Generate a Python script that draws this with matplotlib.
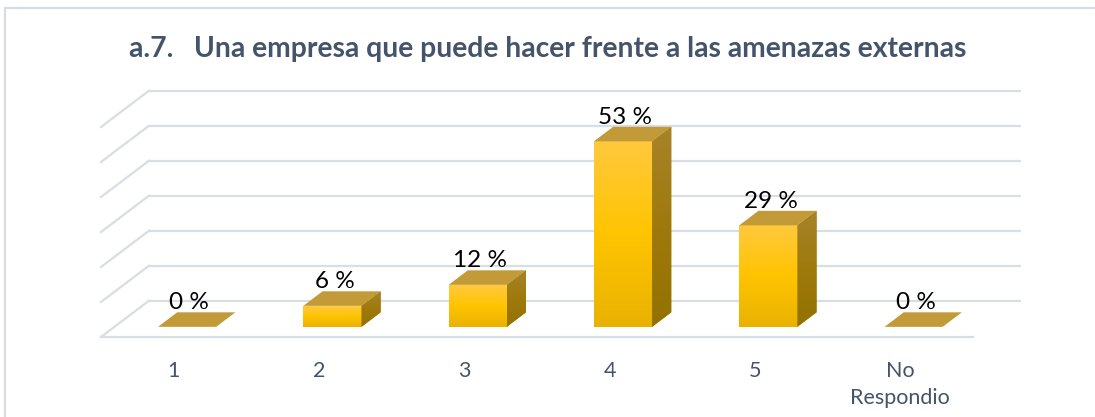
import matplotlib
matplotlib.use("Agg")
import matplotlib.pyplot as plt
import numpy as np
from matplotlib.patches import Polygon, Rectangle
from matplotlib.colors import LinearSegmentedColormap

# ---- data ----
categories = ["1", "2", "3", "4", "5", "No\nRespondio"]
values = [0, 6, 12, 53, 29, 0]
value_labels = ["0 %", "6 %", "12 %", "53 %", "29 %", "0 %"]
grid_levels = [0, 10, 20, 30, 40, 50, 60]
title = "a.7.   Una empresa que puede hacer frente a las amenazas externas"

# ---- layout (pixels) ----
W, H = 1095, 417
X0PX, CATPX = 101.0, 145.3     # left front floor edge, pixels per category
Y0PX, PXPCT = 337.0, 3.5       # front floor line, pixels per percent
DX = 48.0 / CATPX              # depth offset in category units
DY = 36.3 / PXPCT              # depth offset in percent units
Z0, Z1, HW = 0.28, 0.68, 0.2   # bar depth span and half width

fig = plt.figure(figsize=(W / 100, H / 100), dpi=100)
ax = fig.add_axes([0, 0, 1, 1])
ax.set_xlim((0 - X0PX) / CATPX - 0.5, (W - X0PX) / CATPX - 0.5)
ax.set_ylim(-(H - Y0PX) / PXPCT, Y0PX / PXPCT)
ax.axis("off")

def P(x, y, z):
    return (x + z * DX, y + z * DY)

n = len(categories)
grid_col = "#d9dde4"
# chart border
fig.patches.append(Rectangle((5 / W, -0.1), 1.2, 1 - 8 / H + 0.1, transform=fig.transFigure,
                             fill=False, edgecolor="#d9dce1", lw=1.6))

# back wall gridlines and side diagonals
for v in grid_levels:
    a = P(-0.5, v, 1); b = P(n - 0.5, v, 1); c = P(-0.5, v, 0)
    ax.plot([a[0], b[0]], [a[1], b[1]], color=grid_col, lw=1.6, zorder=1, solid_capstyle="butt")
    ax.plot([c[0], a[0]], [c[1], a[1]], color=grid_col, lw=1.6, zorder=1)
# floor front edge
f0 = P(-0.5, 0, 0); f1 = P(n - 0.5, 0, 0)
ax.plot([f0[0], f1[0]], [f0[1], f1[1]], color=grid_col, lw=1.6, zorder=1)

# gradients
grad = np.linspace(0, 1, 256).reshape(-1, 1)
front_cmap = LinearSegmentedColormap.from_list("front", ["#e9b200", "#ffc400", "#ffc93e"])
side_cmap = LinearSegmentedColormap.from_list("side", ["#937200", "#9e7a0c", "#a7832a"])

xs = np.arange(n)
bars = ax.bar(xs + Z0 * DX, values, width=2 * HW, bottom=Z0 * DY, color="#ffc20e",
              edgecolor="none", zorder=3)
for i, (bar, v) in enumerate(zip(bars, values)):
    if v > 0:
        x0 = i - HW + Z0 * DX; x1 = i + HW + Z0 * DX
        im = ax.imshow(grad, extent=[x0, x1, Z0 * DY, Z0 * DY + v], origin="lower",
                       cmap=front_cmap, aspect="auto", zorder=3.1, interpolation="bilinear")
        im.set_clip_path(bar)
        side = Polygon([P(i + HW, 0, Z0), P(i + HW, 0, Z1), P(i + HW, v, Z1), P(i + HW, v, Z0)],
                       closed=True, facecolor="#9c780a", edgecolor="none", zorder=3)
        ax.add_patch(side)
        sx0 = P(i + HW, 0, Z0)[0]; sx1 = P(i + HW, 0, Z1)[0]
        im2 = ax.imshow(grad, extent=[sx0, sx1, Z0 * DY, Z1 * DY + v], origin="lower",
                        cmap=side_cmap, aspect="auto", zorder=3.1, interpolation="bilinear")
        im2.set_clip_path(side)
    top = Polygon([P(i - HW, v, Z0), P(i + HW, v, Z0), P(i + HW, v, Z1), P(i - HW, v, Z1)],
                  closed=True, facecolor="#c29a37", edgecolor="none", zorder=4)
    ax.add_patch(top)
    lx, ly = P(i, v, Z1)
    ax.text(i + Z0 * DX + 0.015, ly + 0.9, value_labels[i], ha="center", va="baseline",
            fontsize=17.5, family="Lato", color="#000000", zorder=5)

# category labels
for i, c in enumerate(categories):
    ax.text(i, -6.9, c, ha="center", va="top", fontsize=15.5, family="Lato",
            color="#44546a", linespacing=1.4)

fig.text(0.5, 1 - 49 / H, title, ha="center", va="center", fontsize=20.3,
         family="Lato", weight="bold", color="#44546a")

fig.savefig("out.png", dpi=100)
